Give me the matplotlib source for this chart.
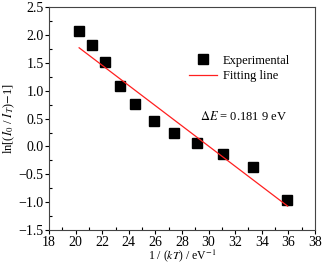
import matplotlib
matplotlib.use("Agg")
from matplotlib import pyplot as plt
from matplotlib.ticker import MultipleLocator

# experimental points
inv_kT = [20.26, 21.2, 22.2, 23.3, 24.5, 25.9, 27.4, 29.15, 31.1, 33.36, 35.9]
ln_ratio = [2.07, 1.82, 1.51, 1.08, 0.755, 0.46, 0.234, 0.06, -0.137, -0.37, -0.96]

# fitted line end points
fit_x = [20.26, 35.95]
fit_y = [1.77, -1.07]

plt.rcParams['font.family'] = ['Liberation Serif', 'DejaVu Serif']
plt.rcParams['mathtext.fontset'] = 'stix'

fig = plt.figure(figsize=(3.23, 2.63), dpi=100)
ax = fig.add_axes([0.152, 0.125, 0.823, 0.848])

ax.plot(inv_kT, ln_ratio, 's', color='black', markersize=6.5, label='Experimental')
ax.plot(fit_x, fit_y, '-', color='#ff2020', lw=0.9, label='Fitting line')

ax.set_xlim(18, 38)
ax.set_ylim(-1.5, 2.5)
ax.xaxis.set_major_locator(MultipleLocator(2))
ax.xaxis.set_minor_locator(MultipleLocator(1))
ax.yaxis.set_major_locator(MultipleLocator(0.5))
ax.yaxis.set_minor_locator(MultipleLocator(0.25))
ax.tick_params(which='major', direction='out', length=3, width=0.8, labelsize=10, pad=1)
ax.tick_params(which='minor', direction='in', length=2, width=0.8)
for s in ax.spines.values():
    s.set_linewidth(0.8)
    s.set_color('#444444')

ax.set_xlabel(r'1 / ($kT$) / eV$^{-1}$', fontsize=8.5, labelpad=-1)
ax.set_ylabel(r'ln[($I_0$ / $I_T$)$-$1]', fontsize=9, labelpad=1)

ax.legend(loc='upper right', bbox_to_anchor=(0.93, 0.815), frameon=False, fontsize=9,
          handlelength=2.2, handletextpad=0.5, labelspacing=0.3, borderpad=0)
ax.text(32.6, 0.53, r'$\Delta E$ = 0.181 9 eV', fontsize=9, ha='center', va='center')

fig.savefig('out.png', dpi=100)
